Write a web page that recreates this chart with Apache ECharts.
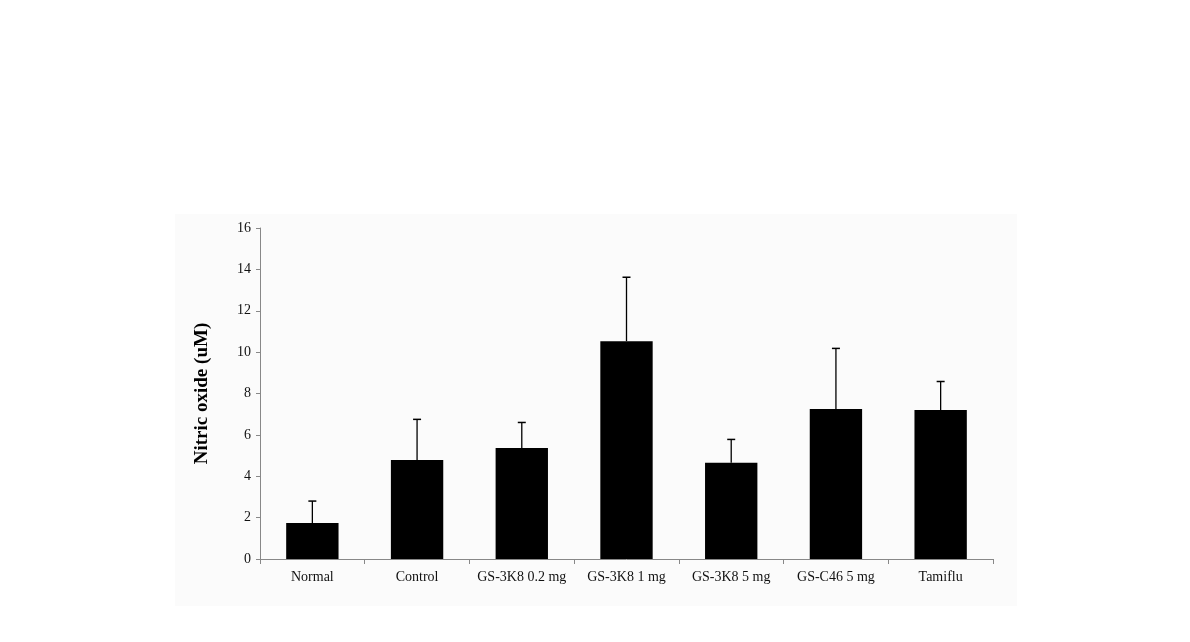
<!DOCTYPE html>
<html>
<head>
<meta charset="utf-8">
<script src="https://cdn.jsdelivr.net/npm/echarts@6/dist/echarts.min.js"></script>
<style>
html,body{margin:0;padding:0;background:#fff;}
#chart{width:1190px;height:642px;}
</style>
</head>
<body>
<div id="chart"></div>
<script>
const categories = ['Normal', 'Control', 'GS-3K8 0.2 mg', 'GS-3K8 1 mg', 'GS-3K8 5 mg', 'GS-C46 5 mg', 'Tamiflu'];
const means = [1.74, 4.78, 5.36, 10.53, 4.65, 7.25, 7.2];
const errors = [1.06, 1.97, 1.24, 3.09, 1.13, 2.93, 1.38];
const yTicks = [0, 2, 4, 6, 8, 10, 12, 14, 16];

const chart = echarts.init(document.getElementById('chart'));
const serif = '"Liberation Serif", "DejaVu Serif", serif';

chart.setOption({
  animation: false,
  backgroundColor: '#fff',
  graphic: [{
    type: 'rect', z: -10,
    shape: { x: 175, y: 214, width: 842, height: 392 },
    style: { fill: '#fbfbfb' }
  }],
  grid: { left: 260, right: 197, top: 228, bottom: 83 },
  xAxis: {
    type: 'category',
    data: categories,
    axisLine: { lineStyle: { color: '#888', width: 1 } },
    axisTick: { show: true, interval: 0, length: 5, lineStyle: { color: '#888' } },
    axisLabel: { interval: 0, color: '#111', fontFamily: serif, fontSize: 14, margin: 11 }
  },
  yAxis: {
    type: 'value',
    min: yTicks[0], max: yTicks[yTicks.length - 1], interval: 2,
    name: 'Nitric oxide (uM)',
    nameLocation: 'middle',
    nameGap: 48,
    nameRotate: 90,
    nameTextStyle: { fontFamily: serif, fontWeight: 'bold', fontSize: 19, color: '#000' },
    axisLine: { show: true, lineStyle: { color: '#888', width: 1 } },
    axisTick: { show: true, length: 4, lineStyle: { color: '#888' } },
    splitLine: { show: false },
    axisLabel: { color: '#111', fontFamily: serif, fontSize: 14, margin: 9 }
  },
  series: [{
    type: 'bar',
    data: means,
    barWidth: '50%',
    itemStyle: { color: '#000' },
    z: 2
  }, {
    type: 'custom',
    z: 3,
    data: means.map((m, i) => [i, m, m + errors[i]]),
    renderItem: function (params, api) {
      const x = api.coord([api.value(0), api.value(1)])[0];
      const y0 = api.coord([api.value(0), api.value(1)])[1];
      const y1 = api.coord([api.value(0), api.value(2)])[1];
      const half = 4;
      return {
        type: 'group',
        children: [
          { type: 'line', shape: { x1: x, y1: y0, x2: x, y2: y1 }, style: { stroke: '#000', lineWidth: 1.3 } },
          { type: 'line', shape: { x1: x - half, y1: y1, x2: x + half, y2: y1 }, style: { stroke: '#000', lineWidth: 1.5 } }
        ]
      };
    }
  }]
});
</script>
</body>
</html>
